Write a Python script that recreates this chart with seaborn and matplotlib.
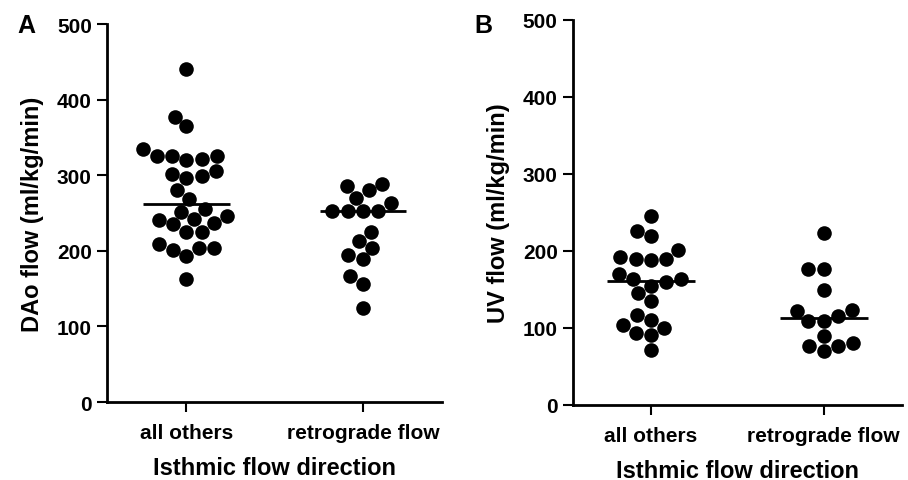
import numpy as np
import pandas as pd
import matplotlib
matplotlib.use("Agg")
import matplotlib.pyplot as plt
import seaborn as sns

# Categorias y valores
groups = ['all others', 'retrograde flow']

dao_all_others = [441, 377, 365, 335, 321, 326, 326, 326, 320, 306, 296, 299, 301, 280, 268,
                  252, 255, 241, 246, 242, 235, 237, 225, 225, 209, 201, 204, 193, 204, 163]
dao_retrograde = [286, 280, 289, 270, 263, 253, 253, 253, 253, 225, 204, 213, 195, 189, 167,
                  156, 125]

uv_all_others = [245, 226, 219, 201, 189, 189, 192, 188, 159, 164, 163, 170, 155, 145, 135,
                 117, 104, 100, 110, 91, 94, 71]
uv_retrograde = [223, 177, 177, 149, 123, 122, 116, 109, 109, 89, 76, 77, 81, 70]

yticks = [0, 100, 200, 300, 400, 500]


def make_df(a, b):
    return pd.DataFrame({
        'group': [groups[0]] * len(a) + [groups[1]] * len(b),
        'value': list(a) + list(b),
    })


sns.set_style('ticks')
plt.rcParams['font.family'] = ['Liberation Sans', 'DejaVu Sans']
plt.rcParams['font.weight'] = 'bold'
plt.rcParams['text.color'] = 'black'
plt.rcParams['axes.labelcolor'] = 'black'
plt.rcParams['xtick.color'] = 'black'
plt.rcParams['ytick.color'] = 'black'

fig = plt.figure(figsize=(9.08, 4.81), dpi=100)
ax1 = fig.add_axes([0.118, 0.162, 0.369, 0.786])
ax2 = fig.add_axes([0.631, 0.156, 0.362, 0.801])

panels = [
    (ax1, make_df(dao_all_others, dao_retrograde), 'DAo flow (ml/kg/min)', 0.245),
    (ax2, make_df(uv_all_others, uv_retrograde), 'UV flow (ml/kg/min)', 0.255),
]

for ax, df, ylabel, half in panels:
    sns.swarmplot(data=df, x='group', y='value', order=groups, color='black',
                  size=10.5, ax=ax)
    # linea de la mediana
    med = df.groupby('group')['value'].median()
    for i, g in enumerate(groups):
        ax.hlines(med[g], i - half, i + half, color='black', linewidth=2, zorder=3)

    ax.set_xlim(-0.45, 1.45)
    ax.set_ylim(0, 500)
    ax.set_yticks(yticks)
    ax.set_xlabel('Isthmic flow direction', fontsize=17, fontweight='bold', labelpad=10)
    ax.set_ylabel(ylabel, fontsize=17, fontweight='bold', labelpad=9)
    ax.tick_params(axis='both', labelsize=15, width=1.5, length=7, pad=4)
    ax.tick_params(axis='x', pad=8)
    for lab in ax.get_xticklabels() + ax.get_yticklabels():
        lab.set_fontweight('bold')
    for s in ['left', 'bottom']:
        ax.spines[s].set_linewidth(2)
        ax.spines[s].set_color('black')
    sns.despine(ax=ax)

fig.text(0.029, 0.946, 'A', fontsize=18, fontweight='bold', ha='center', va='center')
fig.text(0.532, 0.946, 'B', fontsize=18, fontweight='bold', ha='center', va='center')

fig.savefig('out.png', dpi=100)
